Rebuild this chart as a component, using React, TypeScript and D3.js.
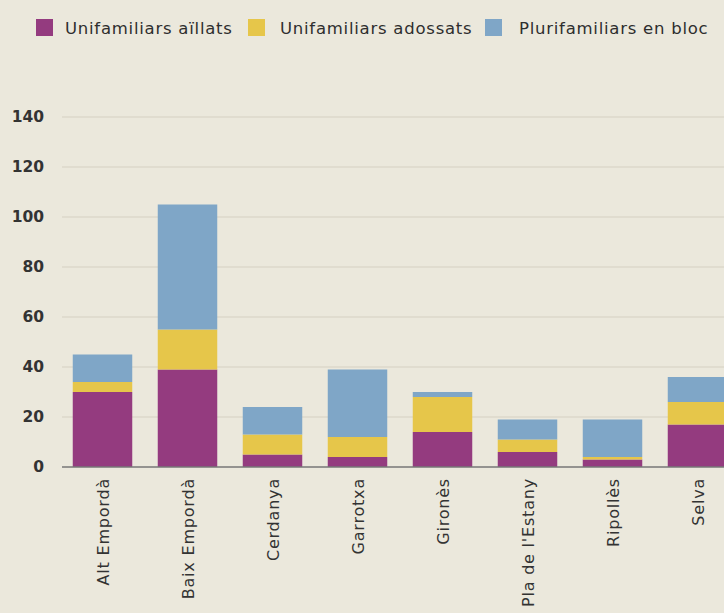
import React from "react";
import * as d3 from "d3";

const categories = [
  "Alt Empordà",
  "Baix Empordà",
  "Cerdanya",
  "Garrotxa",
  "Gironès",
  "Pla de l'Estany",
  "Ripollès",
  "Selva",
];
const seriesNames = ["Unifamiliars aïllats", "Unifamiliars adossats", "Plurifamiliars en bloc"];
const aillats = [30, 39, 5, 4, 14, 6, 3, 17];
const adossats = [4, 16, 8, 8, 14, 5, 1, 9];
const bloc = [11, 50, 11, 27, 2, 8, 15, 10];
const yTicks = [0, 20, 40, 60, 80, 100, 120, 140];

const colors = ["#943b7f", "#e6c64a", "#7fa6c7"];
const W = 724;
const H = 613;
const FONT = "'DejaVu Sans', sans-serif";

export default function App() {
  const rows = categories.map((c, i) => ({ cat: c, s0: aillats[i], s1: adossats[i], s2: bloc[i] }));
  const stack = d3.stack<any>().keys(["s0", "s1", "s2"])(rows);
  const x = d3.scaleBand<string>().domain(categories).range([60, 740]).paddingInner(0.3).paddingOuter(0.15);
  const y = d3.scaleLinear().domain([0, 140]).range([467, 117]);
  const legendSq = [36, 248, 485];
  const legendTx = [65, 280, 519];

  return (
    <div style={{ position: "fixed", left: 0, top: 0 }}>
      <svg width={W} height={H} style={{ display: "block", background: "#ebe8dc" }} fontFamily={FONT}>
        <rect width={W} height={H} fill="#ebe8dc" />
        {seriesNames.map((n, i) => (
          <g key={n}>
            <rect x={legendSq[i]} y={19} width={17} height={17} fill={colors[i]} />
            <text x={legendTx[i]} y={34} fontSize={16.5} letterSpacing={0.75} fill="#2e2e2e">{n}</text>
          </g>
        ))}
        {yTicks.map((t) => (
          <g key={t}>
            {t > 0 && <line x1={62} x2={W} y1={y(t)} y2={y(t)} stroke="#dcd8cb" strokeWidth={1.5} />}
            <text x={44} y={y(t)} dy="0.35em" textAnchor="end" fontSize={15.5} fontWeight="bold" fill="#333">{t}</text>
          </g>
        ))}
        {stack.map((layer, si) => (
          <g key={si} fill={colors[si]}>
            {layer.map((d: any, i: number) => (
              <rect
                key={i}
                x={x(categories[i])}
                y={y(d[1])}
                width={x.bandwidth()}
                height={y(d[0]) - y(d[1])}
              />
            ))}
          </g>
        ))}
        <line x1={62} x2={W} y1={y(0)} y2={y(0)} stroke="#777" strokeWidth={1.5} />
        {categories.map((c) => (
          <text
            key={c}
            transform={`translate(${(x(c) as number) + x.bandwidth() / 2 + 1},478) rotate(-90)`}
            textAnchor="end"
            dy="0.35em"
            fontSize={16}
            letterSpacing={0.8}
            fill="#333"
          >
            {c}
          </text>
        ))}
      </svg>
    </div>
  );
}
